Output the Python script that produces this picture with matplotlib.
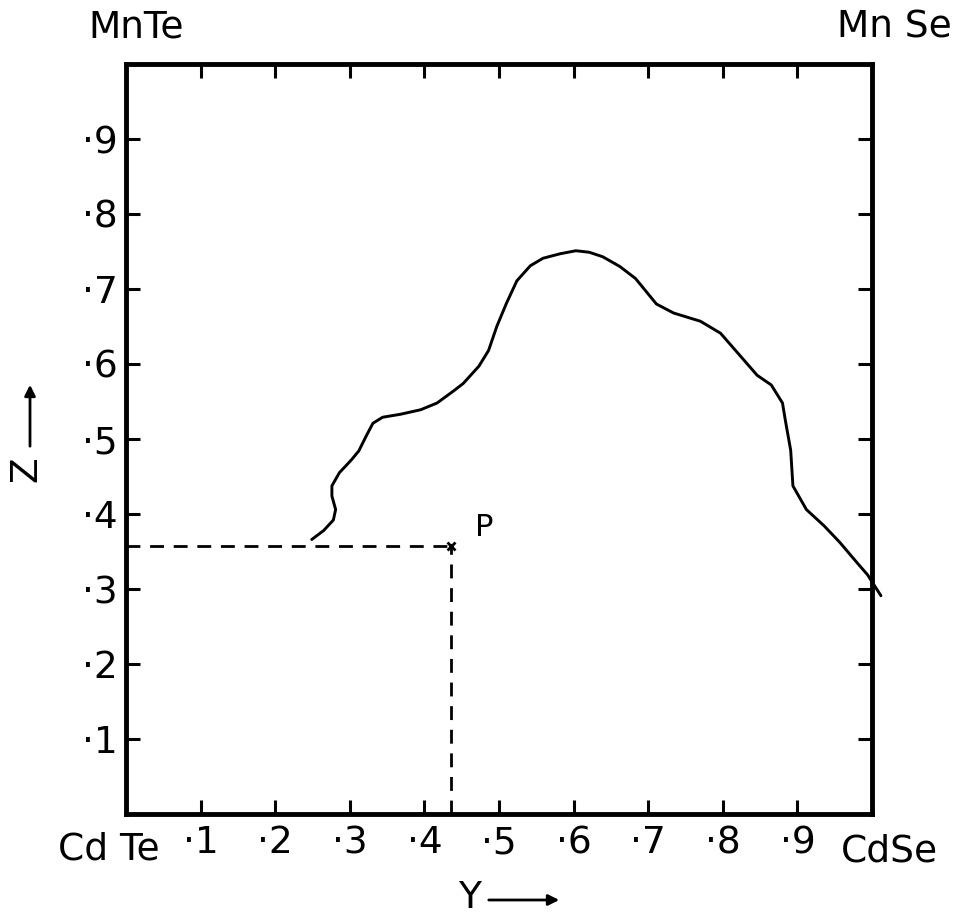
import matplotlib
matplotlib.use("Agg")
import matplotlib.pyplot as plt

# Boundary curve (Y, Z)
curve_y = [0.249, 0.265, 0.278, 0.281, 0.276, 0.276, 0.286, 0.302, 0.312, 0.322,
           0.331, 0.344, 0.368, 0.395, 0.417, 0.439, 0.452, 0.473, 0.486, 0.497,
           0.510, 0.524, 0.542, 0.559, 0.582, 0.603, 0.621, 0.639, 0.662, 0.683,
           0.711, 0.734, 0.770, 0.797, 0.818, 0.846, 0.865, 0.880, 0.884, 0.891,
           0.894, 0.912, 0.936, 0.957, 0.980, 0.994, 1.012]
curve_z = [0.366, 0.378, 0.392, 0.406, 0.424, 0.4375, 0.455, 0.472, 0.484, 0.504,
           0.521, 0.529, 0.533, 0.539, 0.548, 0.564, 0.574, 0.597, 0.618, 0.650,
           0.681, 0.711, 0.731, 0.741, 0.747, 0.751, 0.749, 0.743, 0.730, 0.714,
           0.680, 0.668, 0.657, 0.641, 0.617, 0.585, 0.572, 0.548, 0.524, 0.485,
           0.4375, 0.406, 0.384, 0.362, 0.335, 0.319, 0.291]

# Point P
p_y = 0.435
p_z = 0.357

ticks = [0.1, 0.2, 0.3, 0.4, 0.5, 0.6, 0.7, 0.8, 0.9]
tick_labels = ['·1', '·2', '·3', '·4', '·5', '·6', '·7', '·8', '·9']

plt.rcParams['font.family'] = ['DejaVu Sans']
W, H = 956, 916
fig = plt.figure(figsize=(W / 100, H / 100), dpi=100)
ax = fig.add_axes([126 / W, (H - 814) / H, 746 / W, 750 / H])
ax.set_xlim(0, 1)
ax.set_ylim(0, 1)

ax.plot(curve_y, curve_z, color='black', lw=2.1, clip_on=False,
        solid_capstyle='round', solid_joinstyle='round')
ax.plot([0, p_y], [p_z, p_z], color='black', lw=2.0, dashes=(5, 3.5))
ax.plot([p_y, p_y], [0, p_z], color='black', lw=2.0, dashes=(5, 3.5))
ax.plot([p_y], [p_z], marker='x', color='black', ms=6, mew=2)
ax.text(p_y + 0.033, p_z + 0.005, 'P', fontsize=22, ha='left', va='bottom')

for s in ax.spines.values():
    s.set_linewidth(3.5)

ax.set_xticks(ticks)
ax.set_xticklabels(tick_labels)
ax.set_yticks(ticks)
ax.set_yticklabels(tick_labels)
ax.tick_params(direction='in', length=10, width=2.2, top=True, right=True,
               labelsize=27, pad=6)
ax.tick_params(axis='x', pad=8)

def fx(px):
    return px / W

def fy(py):
    return 1 - py / H

fig.text(fx(58), fy(850), 'Cd Te', fontsize=27, ha='left', va='center')
fig.text(fx(938), fy(852), 'CdSe', fontsize=27, ha='right', va='center')
fig.text(fx(88), fy(27), 'MnTe', fontsize=27, ha='left', va='center')
fig.text(fx(952), fy(27), 'Mn Se', fontsize=27, ha='right', va='center')

fig.text(fx(481), fy(898), 'Y', fontsize=27, ha='right', va='center')
fig.add_artist(matplotlib.patches.FancyArrowPatch(
    (fx(486), fy(900)), (fx(562), fy(900)), transform=fig.transFigure,
    arrowstyle='-|>', mutation_scale=16, color='black', lw=2))

fig.text(fx(26), fy(469), 'Z', fontsize=27, rotation=90, ha='center', va='center')
fig.add_artist(matplotlib.patches.FancyArrowPatch(
    (fx(30), fy(449)), (fx(30), fy(382)), transform=fig.transFigure,
    arrowstyle='-|>', mutation_scale=16, color='black', lw=2))

fig.savefig('out.png', dpi=100, facecolor='white')
